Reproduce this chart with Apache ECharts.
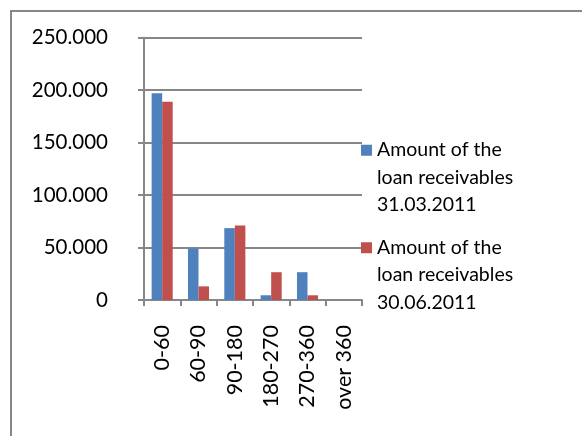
<!DOCTYPE html>
<html>
<head>
<meta charset="utf-8">
<script src="https://cdn.jsdelivr.net/npm/echarts@6/dist/echarts.min.js"></script>
<style>
  html, body { margin: 0; padding: 0; background: #fff; }
  #chart { width: 582px; height: 436px; }
</style>
</head>
<body>
<div id="chart"></div>
<script>
// Ageing buckets (days) and receivable amounts, in thousands
const categories = ['0-60', '60-90', '90-180', '180-270', '270-360', 'over 360'];
const march2011 = [197, 49, 68.5, 4.5, 26.5, 0];
const june2011 = [189, 13, 71, 26.5, 4.5, 0];
const seriesNames = [
  'Amount of the\nloan receivables\n31.03.2011',
  'Amount of the\nloan receivables\n30.06.2011'
];
const yTicks = [0, 50, 100, 150, 200, 250];

const FONT = 'Lato';
const GREY = '#878787';

// Legend swatch: an 11px square near the top of a tall box so it sits beside the first text line
const swatch = 'path://M0,0h0.01v0.01h-0.01zM0,8h11v11h-11zM10.99,81h0.01v0.01h-0.01z';

const chart = echarts.init(document.getElementById('chart'), null, { renderer: 'canvas' });

chart.setOption({
  animation: false,
  backgroundColor: '#fff',
  graphic: [{
    type: 'rect',
    shape: { x: 11, y: 11, width: 700, height: 600 },
    style: { fill: 'none', stroke: GREY, lineWidth: 2 },
    silent: true
  }],
  grid: { left: 144, right: 220, top: 37.7, bottom: 136, containLabel: false },
  legend: {
    orient: 'vertical',
    left: 361,
    top: 136,
    padding: 0,
    itemWidth: 11,
    itemHeight: 81,
    itemGap: 15,
    icon: swatch,
    textStyle: { fontFamily: FONT, fontSize: 19.5, color: '#000', lineHeight: 27.5 },
    data: seriesNames
  },
  xAxis: {
    type: 'category',
    data: categories,
    axisLine: { lineStyle: { color: GREY, width: 2 } },
    axisTick: { show: true, length: 6, lineStyle: { color: GREY, width: 2 } },
    axisLabel: { rotate: 90, margin: 25, fontFamily: FONT, fontSize: 21.5, color: '#000' },
    splitLine: { show: false }
  },
  yAxis: {
    type: 'value',
    min: yTicks[0],
    max: yTicks[yTicks.length - 1],
    interval: 50,
    axisLine: { show: true, lineStyle: { color: GREY, width: 2 } },
    axisTick: { show: true, length: 6, lineStyle: { color: GREY, width: 2 } },
    axisLabel: {
      margin: 36,
      fontFamily: FONT,
      fontSize: 20.5,
      color: '#000',
      formatter: v => v === 0 ? '0' : v.toFixed(3)
    },
    splitLine: { show: true, lineStyle: { color: GREY, width: 2 } }
  },
  series: [
    {
      name: seriesNames[0],
      type: 'bar',
      data: march2011,
      barGap: '0%',
      barCategoryGap: '42%',
      itemStyle: { color: '#4F81BD' }
    },
    {
      name: seriesNames[1],
      type: 'bar',
      data: june2011,
      barGap: '0%',
      barCategoryGap: '42%',
      itemStyle: { color: '#C0504D' }
    }
  ]
});
</script>
</body>
</html>
